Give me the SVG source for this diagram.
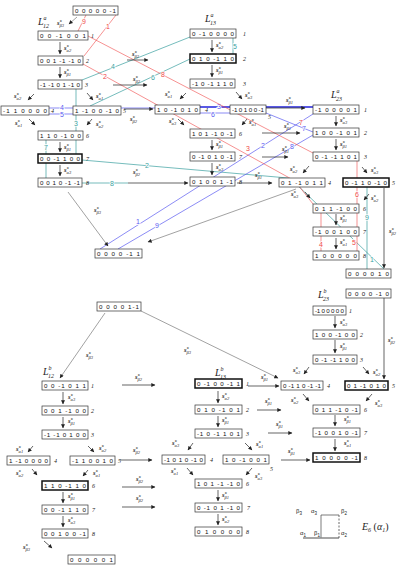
<svg xmlns="http://www.w3.org/2000/svg" width="406" height="571" viewBox="0 0 406 571">
<defs>
<marker id="ah" viewBox="0 0 6 6" refX="5.5" refY="3" markerWidth="5" markerHeight="4" markerUnits="userSpaceOnUse" orient="auto"><path d="M0,0 L6,3 L0,6 z" fill="#222"/></marker>
</defs>
<style>
.bx{fill:#fff;stroke:#333;stroke-width:0.7}
.bk{fill:#fff;stroke:#111;stroke-width:1.5}
.t{font-family:"Liberation Sans",Arial,sans-serif;font-size:6.2px;fill:#111}
.n{font-family:"Liberation Serif",serif;font-style:italic;font-size:6px;fill:#222}
.s{font-family:"Liberation Serif",serif;font-style:italic;font-weight:bold;font-size:6.5px;fill:#222}
.u{font-size:4.5px}
.d{font-size:4.5px;font-weight:normal}
.L{font-family:"Liberation Serif",serif;font-style:italic;font-size:10px;fill:#222}
.Ls{font-size:6px}
.ar{stroke:#222;stroke-width:0.7;fill:none;marker-end:url(#ah)}
.ga{stroke:#444;stroke-width:0.5;fill:none;marker-end:url(#ah)}
.te{stroke:#3a9f9f;stroke-width:0.7;fill:none}
.re{stroke:#f04848;stroke-width:0.6;fill:none}
.bl{stroke:#5a5af0;stroke-width:0.7;fill:none}
.blk{stroke:#2222dd;stroke-width:1.3;fill:none}
.cl{font-family:"Liberation Sans",Arial,sans-serif;font-size:7px;text-anchor:middle;stroke:#fff;stroke-width:1.5px;paint-order:stroke}
.tt{fill:#3a9f9f}.rt{fill:#f04848}.btx{fill:#5a5af0}
.e6{font-family:"Liberation Sans",Arial,sans-serif;font-size:6px;fill:#222}
.e6l{stroke:#444;stroke-width:0.7;fill:none}
</style>
<rect width="406" height="571" fill="#fff"/>
<g id="connectors">
<path class="te" d="M82,80 L190,37"/><text class="cl tt" x="113" y="69">4</text>
<path class="te" d="M90,106 L190,59"/><text class="cl tt" x="153" y="80">6</text>
<path class="te" d="M233,38 L233,54"/><text class="cl tt" x="235" y="49">5</text>
<path class="te" d="M76,89 L76,155"/><text class="cl tt" x="76" y="126">3</text>
<path class="te" d="M46,140 L46,178"/><text class="cl tt" x="46" y="150">7</text>
<path class="te" d="M82,183 L128,183"/><text class="cl tt" x="112" y="185.5">8</text>
<path class="te" d="M82,160 L288,178"/><text class="cl tt" x="147" y="168">2</text>
<path class="te" d="M290,178 L385,270"/><text class="cl tt" x="372" y="262">1</text>
<path class="te" d="M367,187 L367,269"/><text class="cl tt" x="367" y="220">9</text>
<path class="bl" d="M49,108 L73,108"/><text class="cl btx" x="62" y="110">4</text>
<path class="bl" d="M49,114 L73,114"/><text class="cl btx" x="62" y="117">5</text>
<path class="bl" d="M121,108 L155,108"/>
<path class="blk" d="M200,107 L313,107"/><text class="cl btx" x="219" y="109">3</text>
<path class="bl" d="M200,113 L230,113"/><text class="cl btx" x="213" y="117">6</text>
<path class="bl" d="M266,113 L313,132"/><text class="cl btx" x="304" y="131">7</text>
<path class="bl" d="M100,249 L313,114"/><text class="cl btx" x="138" y="224">1</text><text class="cl btx" x="263" y="148">2</text>
<path class="bl" d="M118,249 L313,135"/><text class="cl btx" x="157" y="228">9</text><text class="cl btx" x="292" y="149">8</text>
<path class="re" d="M116,15 L84,56"/><text class="cl rt" x="108" y="29">1</text>
<path class="re" d="M86,15 L78,31"/><text class="cl rt" x="84" y="24">9</text>
<path class="re" d="M88,36 L313,153"/><text class="cl rt" x="163" y="77">8</text><text class="cl rt" x="301" y="125">7</text>
<path class="re" d="M83,64 L295,181 L313,204"/><text class="cl rt" x="105" y="79">2</text><text class="cl rt" x="248" y="151">3</text>
<path class="re" d="M357,161 L357,251"/><text class="cl rt" x="357" y="197">6</text><text class="cl rt" x="354" y="245">5</text>
<path class="re" d="M321,213 L321,251"/><text class="cl rt" x="321" y="247">4</text>
<path class="ga" d="M77,17 L69,24"/>
<path class="ga" d="M68,192 L108,246"/>
<path class="ga" d="M296,189 L148,242"/>
<path class="ga" d="M105,313 L60,378"/>
<path class="ga" d="M141,311 L278,378"/>
<path class="ar" d="M384,188 L384,268"/>
<path class="ar" d="M384,298 L384,379"/>
<path class="ar" d="M60,42 L60,54"/><path class="ar" d="M60,67 L60,78"/>
<path class="ar" d="M60,142 L60,152"/><path class="ar" d="M60,165 L60,176"/>
<path class="ar" d="M34,94 L28,100"/><path class="ar" d="M87,93 L93,100"/>
<path class="ar" d="M29,119 L35,125"/><path class="ar" d="M92,119 L87,125"/>
<path class="ar" d="M212,40 L212,52"/><path class="ar" d="M212,65 L212,77"/>
<path class="ar" d="M212,140 L212,150"/><path class="ar" d="M212,163 L212,175"/>
<path class="ar" d="M186,93 L180,99"/><path class="ar" d="M236,92 L242,99"/>
<path class="ar" d="M178,119 L184,125"/><path class="ar" d="M247,119 L242,125"/>
<path class="ar" d="M336,116 L336,126"/><path class="ar" d="M336,139 L336,150"/>
<path class="ar" d="M336,214 L336,225"/><path class="ar" d="M336,238 L336,249"/>
<path class="ar" d="M309,166 L303,173"/><path class="ar" d="M362,167 L367,173"/>
<path class="ar" d="M305,192 L310,198"/><path class="ar" d="M369,194 L364,200"/>
<path class="ar" d="M127,60 L148,60"/><path class="ar" d="M113,85 L147,85"/>
<path class="ar" d="M124,109 L153,109"/><path class="ar" d="M128,183 L188,183"/>
<path class="ar" d="M262,108 L305,108"/><path class="ar" d="M262,133 L300,133"/>
<path class="ar" d="M262,157 L288,157"/><path class="ar" d="M237,183 L272,183"/>
<path class="ar" d="M63,392 L63,404"/><path class="ar" d="M63,417 L63,428"/>
<path class="ar" d="M63,492 L63,503"/><path class="ar" d="M63,516 L63,527"/>
<path class="ar" d="M33,446 L28,452"/><path class="ar" d="M88,446 L94,452"/>
<path class="ar" d="M32,469 L37,475"/><path class="ar" d="M88,470 L83,476"/>
<path class="ar" d="M44,541 L52,548"/>
<path class="ar" d="M218,391 L218,403"/><path class="ar" d="M218,416 L218,427"/>
<path class="ar" d="M218,490 L218,501"/><path class="ar" d="M218,514 L218,525"/>
<path class="ar" d="M193,443 L188,450"/><path class="ar" d="M245,443 L252,450"/>
<path class="ar" d="M187,468 L193,475"/><path class="ar" d="M252,468 L246,475"/>
<path class="ar" d="M335,316 L335,328"/><path class="ar" d="M335,340 L335,353"/>
<path class="ar" d="M335,415 L335,426"/><path class="ar" d="M335,439 L335,451"/>
<path class="ar" d="M309,367 L304,374"/><path class="ar" d="M363,367 L369,374"/>
<path class="ar" d="M303,394 L309,401"/><path class="ar" d="M372,394 L366,401"/>
<path class="ar" d="M122,385 L155,385"/><path class="ar" d="M120,460 L152,460"/>
<path class="ar" d="M122,487 L155,487"/><path class="ar" d="M122,507 L155,507"/>
<path class="ar" d="M248,386 L279,386"/><path class="ar" d="M257,410 L281,410"/>
<path class="ar" d="M268,433 L292,433"/><path class="ar" d="M281,460 L310,460"/>
<g id="labels">
<text class="s" x="57" y="25">s<tspan class="u" dy="-2.5">*</tspan><tspan class="d" dx="-2.2" dy="4.3">β3</tspan></text>
<text class="s" x="64" y="50">s<tspan class="u" dy="-2.5">*</tspan><tspan class="d" dx="-2.2" dy="4.3">α2</tspan></text>
<text class="s" x="64" y="74">s<tspan class="u" dy="-2.5">*</tspan><tspan class="d" dx="-2.2" dy="4.3">β1</tspan></text>
<text class="s" x="64" y="149">s<tspan class="u" dy="-2.5">*</tspan><tspan class="d" dx="-2.2" dy="4.3">β1</tspan></text>
<text class="s" x="64" y="172">s<tspan class="u" dy="-2.5">*</tspan><tspan class="d" dx="-2.2" dy="4.3">α3</tspan></text>
<text class="s" x="14" y="98">s<tspan class="u" dy="-2.5">*</tspan><tspan class="d" dx="-2.2" dy="4.3">α2</tspan></text>
<text class="s" x="96" y="98">s<tspan class="u" dy="-2.5">*</tspan><tspan class="d" dx="-2.2" dy="4.3">α1</tspan></text>
<text class="s" x="15" y="125">s<tspan class="u" dy="-2.5">*</tspan><tspan class="d" dx="-2.2" dy="4.3">α1</tspan></text>
<text class="s" x="96" y="126">s<tspan class="u" dy="-2.5">*</tspan><tspan class="d" dx="-2.2" dy="4.3">α2</tspan></text>
<text class="s" x="216" y="47">s<tspan class="u" dy="-2.5">*</tspan><tspan class="d" dx="-2.2" dy="4.3">α2</tspan></text>
<text class="s" x="216" y="72">s<tspan class="u" dy="-2.5">*</tspan><tspan class="d" dx="-2.2" dy="4.3">β1</tspan></text>
<text class="s" x="216" y="146">s<tspan class="u" dy="-2.5">*</tspan><tspan class="d" dx="-2.2" dy="4.3">β1</tspan></text>
<text class="s" x="216" y="169">s<tspan class="u" dy="-2.5">*</tspan><tspan class="d" dx="-2.2" dy="4.3">α3</tspan></text>
<text class="s" x="165" y="96">s<tspan class="u" dy="-2.5">*</tspan><tspan class="d" dx="-2.2" dy="4.3">α1</tspan></text>
<text class="s" x="245" y="97">s<tspan class="u" dy="-2.5">*</tspan><tspan class="d" dx="-2.2" dy="4.3">α3</tspan></text>
<text class="s" x="169" y="123">s<tspan class="u" dy="-2.5">*</tspan><tspan class="d" dx="-2.2" dy="4.3">α3</tspan></text>
<text class="s" x="249" y="124">s<tspan class="u" dy="-2.5">*</tspan><tspan class="d" dx="-2.2" dy="4.3">α1</tspan></text>
<text class="s" x="340" y="122">s<tspan class="u" dy="-2.5">*</tspan><tspan class="d" dx="-2.2" dy="4.3">α3</tspan></text>
<text class="s" x="340" y="146">s<tspan class="u" dy="-2.5">*</tspan><tspan class="d" dx="-2.2" dy="4.3">β1</tspan></text>
<text class="s" x="340" y="220">s<tspan class="u" dy="-2.5">*</tspan><tspan class="d" dx="-2.2" dy="4.3">β1</tspan></text>
<text class="s" x="340" y="244">s<tspan class="u" dy="-2.5">*</tspan><tspan class="d" dx="-2.2" dy="4.3">α1</tspan></text>
<text class="s" x="290" y="171">s<tspan class="u" dy="-2.5">*</tspan><tspan class="d" dx="-2.2" dy="4.3">α2</tspan></text>
<text class="s" x="371" y="172">s<tspan class="u" dy="-2.5">*</tspan><tspan class="d" dx="-2.2" dy="4.3">α3</tspan></text>
<text class="s" x="291" y="196">s<tspan class="u" dy="-2.5">*</tspan><tspan class="d" dx="-2.2" dy="4.3">α3</tspan></text>
<text class="s" x="371" y="200">s<tspan class="u" dy="-2.5">*</tspan><tspan class="d" dx="-2.2" dy="4.3">α2</tspan></text>
<text class="s" x="132" y="56">s<tspan class="u" dy="-2.5">*</tspan><tspan class="d" dx="-2.2" dy="4.3">β2</tspan></text>
<text class="s" x="133" y="81">s<tspan class="u" dy="-2.5">*</tspan><tspan class="d" dx="-2.2" dy="4.3">β2</tspan></text>
<text class="s" x="130" y="121">s<tspan class="u" dy="-2.5">*</tspan><tspan class="d" dx="-2.2" dy="4.3">β2</tspan></text>
<text class="s" x="133" y="174">s<tspan class="u" dy="-2.5">*</tspan><tspan class="d" dx="-2.2" dy="4.3">β2</tspan></text>
<text class="s" x="286" y="102">s<tspan class="u" dy="-2.5">*</tspan><tspan class="d" dx="-2.2" dy="4.3">β1</tspan></text>
<text class="s" x="284" y="128">s<tspan class="u" dy="-2.5">*</tspan><tspan class="d" dx="-2.2" dy="4.3">β1</tspan></text>
<text class="s" x="282" y="151">s<tspan class="u" dy="-2.5">*</tspan><tspan class="d" dx="-2.2" dy="4.3">β1</tspan></text>
<text class="s" x="255" y="177">s<tspan class="u" dy="-2.5">*</tspan><tspan class="d" dx="-2.2" dy="4.3">β1</tspan></text>
<text class="s" x="94" y="212">s<tspan class="u" dy="-2.5">*</tspan><tspan class="d" dx="-2.2" dy="4.3">β3</tspan></text>
<text class="s" x="389" y="233">s<tspan class="u" dy="-2.5">*</tspan><tspan class="d" dx="-2.2" dy="4.3">β2</tspan></text>
<text class="s" x="388" y="342">s<tspan class="u" dy="-2.5">*</tspan><tspan class="d" dx="-2.2" dy="4.3">β2</tspan></text>
<text class="s" x="86" y="357">s<tspan class="u" dy="-2.5">*</tspan><tspan class="d" dx="-2.2" dy="4.3">β3</tspan></text>
<text class="s" x="184" y="352">s<tspan class="u" dy="-2.5">*</tspan><tspan class="d" dx="-2.2" dy="4.3">β3</tspan></text>
<text class="s" x="68" y="399">s<tspan class="u" dy="-2.5">*</tspan><tspan class="d" dx="-2.2" dy="4.3">α3</tspan></text>
<text class="s" x="68" y="423">s<tspan class="u" dy="-2.5">*</tspan><tspan class="d" dx="-2.2" dy="4.3">β1</tspan></text>
<text class="s" x="68" y="498">s<tspan class="u" dy="-2.5">*</tspan><tspan class="d" dx="-2.2" dy="4.3">β1</tspan></text>
<text class="s" x="68" y="522">s<tspan class="u" dy="-2.5">*</tspan><tspan class="d" dx="-2.2" dy="4.3">α3</tspan></text>
<text class="s" x="16" y="451">s<tspan class="u" dy="-2.5">*</tspan><tspan class="d" dx="-2.2" dy="4.3">α1</tspan></text>
<text class="s" x="99" y="450">s<tspan class="u" dy="-2.5">*</tspan><tspan class="d" dx="-2.2" dy="4.3">α2</tspan></text>
<text class="s" x="16" y="475">s<tspan class="u" dy="-2.5">*</tspan><tspan class="d" dx="-2.2" dy="4.3">α2</tspan></text>
<text class="s" x="93" y="475">s<tspan class="u" dy="-2.5">*</tspan><tspan class="d" dx="-2.2" dy="4.3">α1</tspan></text>
<text class="s" x="23" y="549">s<tspan class="u" dy="-2.5">*</tspan><tspan class="d" dx="-2.2" dy="4.3">β3</tspan></text>
<text class="s" x="222" y="398">s<tspan class="u" dy="-2.5">*</tspan><tspan class="d" dx="-2.2" dy="4.3">α2</tspan></text>
<text class="s" x="222" y="422">s<tspan class="u" dy="-2.5">*</tspan><tspan class="d" dx="-2.2" dy="4.3">β1</tspan></text>
<text class="s" x="222" y="497">s<tspan class="u" dy="-2.5">*</tspan><tspan class="d" dx="-2.2" dy="4.3">β1</tspan></text>
<text class="s" x="222" y="521">s<tspan class="u" dy="-2.5">*</tspan><tspan class="d" dx="-2.2" dy="4.3">α2</tspan></text>
<text class="s" x="172" y="445">s<tspan class="u" dy="-2.5">*</tspan><tspan class="d" dx="-2.2" dy="4.3">α3</tspan></text>
<text class="s" x="256" y="446">s<tspan class="u" dy="-2.5">*</tspan><tspan class="d" dx="-2.2" dy="4.3">α1</tspan></text>
<text class="s" x="171" y="473">s<tspan class="u" dy="-2.5">*</tspan><tspan class="d" dx="-2.2" dy="4.3">α1</tspan></text>
<text class="s" x="255" y="478">s<tspan class="u" dy="-2.5">*</tspan><tspan class="d" dx="-2.2" dy="4.3">α3</tspan></text>
<text class="s" x="340" y="324">s<tspan class="u" dy="-2.5">*</tspan><tspan class="d" dx="-2.2" dy="4.3">α3</tspan></text>
<text class="s" x="340" y="348">s<tspan class="u" dy="-2.5">*</tspan><tspan class="d" dx="-2.2" dy="4.3">β1</tspan></text>
<text class="s" x="344" y="421">s<tspan class="u" dy="-2.5">*</tspan><tspan class="d" dx="-2.2" dy="4.3">β1</tspan></text>
<text class="s" x="344" y="445">s<tspan class="u" dy="-2.5">*</tspan><tspan class="d" dx="-2.2" dy="4.3">α1</tspan></text>
<text class="s" x="293" y="372">s<tspan class="u" dy="-2.5">*</tspan><tspan class="d" dx="-2.2" dy="4.3">α3</tspan></text>
<text class="s" x="373" y="374">s<tspan class="u" dy="-2.5">*</tspan><tspan class="d" dx="-2.2" dy="4.3">α2</tspan></text>
<text class="s" x="291" y="402">s<tspan class="u" dy="-2.5">*</tspan><tspan class="d" dx="-2.2" dy="4.3">α2</tspan></text>
<text class="s" x="375" y="405">s<tspan class="u" dy="-2.5">*</tspan><tspan class="d" dx="-2.2" dy="4.3">α3</tspan></text>
<text class="s" x="135" y="379">s<tspan class="u" dy="-2.5">*</tspan><tspan class="d" dx="-2.2" dy="4.3">β2</tspan></text>
<text class="s" x="133" y="452">s<tspan class="u" dy="-2.5">*</tspan><tspan class="d" dx="-2.2" dy="4.3">β2</tspan></text>
<text class="s" x="136" y="481">s<tspan class="u" dy="-2.5">*</tspan><tspan class="d" dx="-2.2" dy="4.3">β2</tspan></text>
<text class="s" x="136" y="500">s<tspan class="u" dy="-2.5">*</tspan><tspan class="d" dx="-2.2" dy="4.3">β2</tspan></text>
<text class="s" x="261" y="379">s<tspan class="u" dy="-2.5">*</tspan><tspan class="d" dx="-2.2" dy="4.3">β1</tspan></text>
<text class="s" x="265" y="403">s<tspan class="u" dy="-2.5">*</tspan><tspan class="d" dx="-2.2" dy="4.3">β1</tspan></text>
<text class="s" x="276" y="426">s<tspan class="u" dy="-2.5">*</tspan><tspan class="d" dx="-2.2" dy="4.3">β1</tspan></text>
<text class="s" x="288" y="453">s<tspan class="u" dy="-2.5">*</tspan><tspan class="d" dx="-2.2" dy="4.3">β1</tspan></text>
</g>
</g>
<text class="L" x="38" y="25">L<tspan class="Ls" dy="-5">a</tspan><tspan class="Ls" dx="-3.5" dy="8">12</tspan></text>
<text class="L" x="205" y="22">L<tspan class="Ls" dy="-5">a</tspan><tspan class="Ls" dx="-3.5" dy="8">13</tspan></text>
<text class="L" x="331" y="98">L<tspan class="Ls" dy="-5">a</tspan><tspan class="Ls" dx="-3.5" dy="8">23</tspan></text>
<text class="L" x="43" y="375">L<tspan class="Ls" dy="-5">b</tspan><tspan class="Ls" dx="-3.5" dy="8">12</tspan></text>
<text class="L" x="215" y="376">L<tspan class="Ls" dy="-5">b</tspan><tspan class="Ls" dx="-3.5" dy="8">13</tspan></text>
<text class="L" x="318" y="298">L<tspan class="Ls" dy="-5">b</tspan><tspan class="Ls" dx="-3.5" dy="8">23</tspan></text>
<g id="top"><rect class="bx" x="73" y="6" width="45" height="9"/><text class="t" x="75" y="13" textLength="41" lengthAdjust="spacing">0 0 0 0 0 -1</text></g>
<g id="mid1"><rect class="bx" x="95" y="249" width="47" height="9"/><text class="t" x="97" y="256" textLength="43" lengthAdjust="spacing">0 0 0 0 -1 1</text></g>
<g id="mid2"><rect class="bx" x="346" y="269" width="45" height="9"/><text class="t" x="348" y="276" textLength="41" lengthAdjust="spacing">0 0 0 0 1 0</text></g>
<g id="mid3"><rect class="bx" x="346" y="289" width="45" height="9"/><text class="t" x="348" y="296" textLength="41" lengthAdjust="spacing">0 0 0 0 -1 0</text></g>
<g id="mid4"><rect class="bx" x="97" y="302" width="44" height="9"/><text class="t" x="99" y="309" textLength="40" lengthAdjust="spacing">0 0 0 0 1-1</text></g>
<g id="bottom"><rect class="bx" x="68" y="555" width="47" height="9"/><text class="t" x="70" y="562" textLength="43" lengthAdjust="spacing">0 0 0 0 0 1</text></g>
<g id="a12-1"><rect class="bx" x="38" y="31" width="50" height="9"/><text class="t" x="40" y="38" textLength="46" lengthAdjust="spacing">0 0 -1 0 0 1</text><text class="n" x="91" y="38">1</text></g>
<g id="a12-2"><rect class="bx" x="38" y="56" width="45" height="9"/><text class="t" x="40" y="63" textLength="41" lengthAdjust="spacing">0 0 1 -1 -1 0</text><text class="n" x="86" y="63">2</text></g>
<g id="a12-3"><rect class="bx" x="38" y="80" width="44" height="9"/><text class="t" x="40" y="87" textLength="40" lengthAdjust="spacing">-1 -1 0 1 -1 0</text><text class="n" x="85" y="87">3</text></g>
<g id="a12-4"><rect class="bx" x="1" y="106" width="48" height="9"/><text class="t" x="3" y="113" textLength="44" lengthAdjust="spacing">-1 1 0 0 0 0</text><text class="n" x="51" y="113">4</text></g>
<g id="a12-5"><rect class="bx" x="73" y="106" width="48" height="9"/><text class="t" x="75" y="113" textLength="44" lengthAdjust="spacing">1 -1 0 0 -1 0</text><text class="n" x="123" y="113">5</text></g>
<g id="a12-6"><rect class="bx" x="38" y="131" width="45" height="9"/><text class="t" x="40" y="138" textLength="41" lengthAdjust="spacing">1 1 0 -1 0 0</text><text class="n" x="86" y="138">6</text></g>
<g id="a12-7"><rect class="bk" x="38" y="154" width="44" height="9"/><text class="t" x="40" y="161" textLength="40" lengthAdjust="spacing">0 0 -1 1 0 0</text><text class="n" x="86" y="161">7</text></g>
<g id="a12-8"><rect class="bx" x="38" y="178" width="44" height="9"/><text class="t" x="40" y="185" textLength="40" lengthAdjust="spacing">0 0 1 0 -1 -1</text><text class="n" x="86" y="185">8</text></g>
<g id="a13-1"><rect class="bx" x="190" y="29" width="46" height="9"/><text class="t" x="192" y="36" textLength="42" lengthAdjust="spacing">0 -1 0 0 0 0</text><text class="n" x="243" y="36">1</text></g>
<g id="a13-2"><rect class="bk" x="190" y="54" width="46" height="9"/><text class="t" x="192" y="61" textLength="42" lengthAdjust="spacing">0 1 0 -1 1 0</text><text class="n" x="243" y="61">2</text></g>
<g id="a13-3"><rect class="bx" x="190" y="79" width="45" height="9"/><text class="t" x="192" y="86" textLength="41" lengthAdjust="spacing">-1 0 -1 1 1 0</text><text class="n" x="243" y="86">3</text></g>
<g id="a13-4"><rect class="bx" x="155" y="105" width="45" height="9"/><text class="t" x="157" y="112" textLength="41" lengthAdjust="spacing">1 0 -1 0 1 0</text><text class="n" x="205" y="112">4</text></g>
<g id="a13-5"><rect class="bx" x="230" y="105" width="36" height="9"/><text class="t" x="232" y="112" textLength="32" lengthAdjust="spacing">-1 0 1 0 0 -1</text><text class="n" x="268" y="119">5</text></g>
<g id="a13-6"><rect class="bx" x="190" y="129" width="45" height="9"/><text class="t" x="192" y="136" textLength="41" lengthAdjust="spacing">1 0 1 -1 0 -1</text><text class="n" x="239" y="136">6</text></g>
<g id="a13-7"><rect class="bx" x="190" y="152" width="45" height="9"/><text class="t" x="192" y="159" textLength="41" lengthAdjust="spacing">0 -1 0 1 0 -1</text><text class="n" x="239" y="159">7</text></g>
<g id="a13-8"><rect class="bx" x="190" y="177" width="45" height="9"/><text class="t" x="192" y="184" textLength="41" lengthAdjust="spacing">0 1 0 0 1 -1</text><text class="n" x="239" y="184">8</text></g>
<g id="a23-1"><rect class="bx" x="313" y="105" width="46" height="9"/><text class="t" x="315" y="112" textLength="42" lengthAdjust="spacing">-1 0 0 0 0 1</text><text class="n" x="364" y="112">1</text></g>
<g id="a23-2"><rect class="bx" x="313" y="128" width="46" height="9"/><text class="t" x="315" y="135" textLength="42" lengthAdjust="spacing">1 0 0 -1 0 1</text><text class="n" x="364" y="135">2</text></g>
<g id="a23-3"><rect class="bx" x="313" y="152" width="46" height="9"/><text class="t" x="315" y="159" textLength="42" lengthAdjust="spacing">0 -1 -1 1 0 1</text><text class="n" x="364" y="159">3</text></g>
<g id="a23-4"><rect class="bx" x="279" y="178" width="46" height="9"/><text class="t" x="281" y="185" textLength="42" lengthAdjust="spacing">0 1 -1 0 1 1</text><text class="n" x="328" y="185">4</text></g>
<g id="a23-5"><rect class="bk" x="343" y="178" width="46" height="9"/><text class="t" x="345" y="185" textLength="42" lengthAdjust="spacing">0 -1 1 0 -1 0</text><text class="n" x="392" y="185">5</text></g>
<g id="a23-6"><rect class="bx" x="313" y="204" width="46" height="9"/><text class="t" x="315" y="211" textLength="42" lengthAdjust="spacing">0 1 1 -1 0 0</text><text class="n" x="363" y="211">6</text></g>
<g id="a23-7"><rect class="bx" x="313" y="227" width="46" height="9"/><text class="t" x="315" y="234" textLength="42" lengthAdjust="spacing">-1 0 0 1 0 0</text><text class="n" x="363" y="234">7</text></g>
<g id="a23-8"><rect class="bx" x="313" y="251" width="46" height="9"/><text class="t" x="315" y="258" textLength="42" lengthAdjust="spacing">1 0 0 0 0 0</text><text class="n" x="363" y="258">8</text></g>
<g id="b12-1"><rect class="bx" x="42" y="381" width="46" height="9"/><text class="t" x="44" y="388" textLength="42" lengthAdjust="spacing">0 0 -1 0 1 1</text><text class="n" x="91" y="388">1</text></g>
<g id="b12-2"><rect class="bx" x="42" y="406" width="46" height="9"/><text class="t" x="44" y="413" textLength="42" lengthAdjust="spacing">0 0 1 -1 0 0</text><text class="n" x="91" y="413">2</text></g>
<g id="b12-3"><rect class="bx" x="42" y="430" width="46" height="9"/><text class="t" x="44" y="437" textLength="42" lengthAdjust="spacing">-1 -1 0 1 0 0</text><text class="n" x="91" y="437">3</text></g>
<g id="b12-4"><rect class="bx" x="7" y="456" width="43" height="9"/><text class="t" x="9" y="463" textLength="39" lengthAdjust="spacing">1 -1 0 0 0 0</text><text class="n" x="54" y="463">4</text></g>
<g id="b12-5"><rect class="bx" x="70" y="456" width="45" height="9"/><text class="t" x="72" y="463" textLength="41" lengthAdjust="spacing">-1 1 0 0 1 0</text><text class="n" x="118" y="463">5</text></g>
<g id="b12-6"><rect class="bk" x="42" y="481" width="46" height="9"/><text class="t" x="44" y="488" textLength="42" lengthAdjust="spacing">1 1 0 -1 1 0</text><text class="n" x="92" y="488">6</text></g>
<g id="b12-7"><rect class="bx" x="42" y="505" width="46" height="9"/><text class="t" x="44" y="512" textLength="42" lengthAdjust="spacing">0 0 -1 1 1 0</text><text class="n" x="92" y="512">7</text></g>
<g id="b12-8"><rect class="bx" x="42" y="529" width="46" height="9"/><text class="t" x="44" y="536" textLength="42" lengthAdjust="spacing">0 0 1 0 0 -1</text><text class="n" x="92" y="536">8</text></g>
<g id="b13-1"><rect class="bk" x="195" y="379" width="47" height="9"/><text class="t" x="197" y="386" textLength="43" lengthAdjust="spacing">0 -1 0 0 -1 1</text><text class="n" x="246" y="386">1</text></g>
<g id="b13-2"><rect class="bx" x="195" y="405" width="47" height="9"/><text class="t" x="197" y="412" textLength="43" lengthAdjust="spacing">0 1 0 -1 0 1</text><text class="n" x="246" y="412">2</text></g>
<g id="b13-3"><rect class="bx" x="195" y="429" width="47" height="9"/><text class="t" x="197" y="436" textLength="43" lengthAdjust="spacing">-1 0 -1 1 0 1</text><text class="n" x="246" y="436">3</text></g>
<g id="b13-4"><rect class="bx" x="162" y="455" width="43" height="9"/><text class="t" x="164" y="462" textLength="39" lengthAdjust="spacing">-1 0 1 0 -1 0</text><text class="n" x="210" y="462">4</text></g>
<g id="b13-5"><rect class="bx" x="223" y="455" width="46" height="9"/><text class="t" x="225" y="462" textLength="42" lengthAdjust="spacing">1 0 -1 0 0 1</text><text class="n" x="270" y="471">5</text></g>
<g id="b13-6"><rect class="bx" x="195" y="479" width="47" height="9"/><text class="t" x="197" y="486" textLength="43" lengthAdjust="spacing">1 0 1 -1 -1 0</text><text class="n" x="246" y="486">6</text></g>
<g id="b13-7"><rect class="bx" x="195" y="503" width="47" height="9"/><text class="t" x="197" y="510" textLength="43" lengthAdjust="spacing">0 -1 0 1 -1 0</text><text class="n" x="247" y="510">7</text></g>
<g id="b13-8"><rect class="bx" x="195" y="527" width="47" height="9"/><text class="t" x="197" y="534" textLength="43" lengthAdjust="spacing">0 1 0 0 0 0</text><text class="n" x="246" y="534">8</text></g>
<g id="b23-1"><rect class="bx" x="313" y="306" width="33" height="9"/><text class="t" x="315" y="313" textLength="29" lengthAdjust="spacing">-1 0 0 0 0 0</text><text class="n" x="349" y="313">1</text></g>
<g id="b23-2"><rect class="bx" x="313" y="330" width="44" height="9"/><text class="t" x="315" y="337" textLength="40" lengthAdjust="spacing">1 0 0 -1 0 0</text><text class="n" x="360" y="337">2</text></g>
<g id="b23-3"><rect class="bx" x="313" y="355" width="44" height="9"/><text class="t" x="315" y="362" textLength="40" lengthAdjust="spacing">0 -1 -1 1 0 0</text><text class="n" x="360" y="362">3</text></g>
<g id="b23-4"><rect class="bx" x="281" y="381" width="42" height="9"/><text class="t" x="283" y="388" textLength="38" lengthAdjust="spacing">0 -1 1 0 -1 -1</text><text class="n" x="327" y="388">4</text></g>
<g id="b23-5"><rect class="bk" x="345" y="381" width="43" height="9"/><text class="t" x="347" y="388" textLength="39" lengthAdjust="spacing">0 1 -1 0 1 0</text><text class="n" x="392" y="388">5</text></g>
<g id="b23-6"><rect class="bx" x="313" y="405" width="47" height="9"/><text class="t" x="315" y="412" textLength="43" lengthAdjust="spacing">0 1 1 -1 0 -1</text><text class="n" x="364" y="412">6</text></g>
<g id="b23-7"><rect class="bx" x="313" y="428" width="47" height="9"/><text class="t" x="315" y="435" textLength="43" lengthAdjust="spacing">-1 0 0 1 0 -1</text><text class="n" x="364" y="435">7</text></g>
<g id="b23-8"><rect class="bk" x="313" y="453" width="47" height="9"/><text class="t" x="315" y="460" textLength="43" lengthAdjust="spacing">1 0 0 0 0 -1</text><text class="n" x="364" y="460">8</text></g>
<g id="e6">
<path class="e6l" d="M321,515 L321,538 M321,515 L339,515"/>
<path d="M303,538 L339,538" stroke="#888" stroke-width="1.6" fill="none"/>
<path d="M339,515 L339,538" stroke="#444" stroke-width="0.8" stroke-dasharray="2,1.5" fill="none"/>
<text class="e6" x="296" y="513">β<tspan dy="1.5" font-size="4.5">3</tspan></text>
<text class="e6" x="311" y="513">α<tspan dy="1.5" font-size="4.5">3</tspan></text>
<text class="e6" x="341" y="513">β<tspan dy="1.5" font-size="4.5">2</tspan></text>
<text class="e6" x="300" y="535">α<tspan dy="1.5" font-size="4.5">1</tspan></text>
<text class="e6" x="314" y="535">β<tspan dy="1.5" font-size="4.5">1</tspan></text>
<text class="e6" x="341" y="535">α<tspan dy="1.5" font-size="4.5">2</tspan></text>
<text class="L" x="362" y="530" font-size="9">E<tspan class="Ls" dy="2">6</tspan><tspan dy="-2" font-style="normal"> (</tspan>α<tspan class="Ls" dy="2">1</tspan><tspan dy="-2" font-style="normal">)</tspan></text>
</g>
</svg>
